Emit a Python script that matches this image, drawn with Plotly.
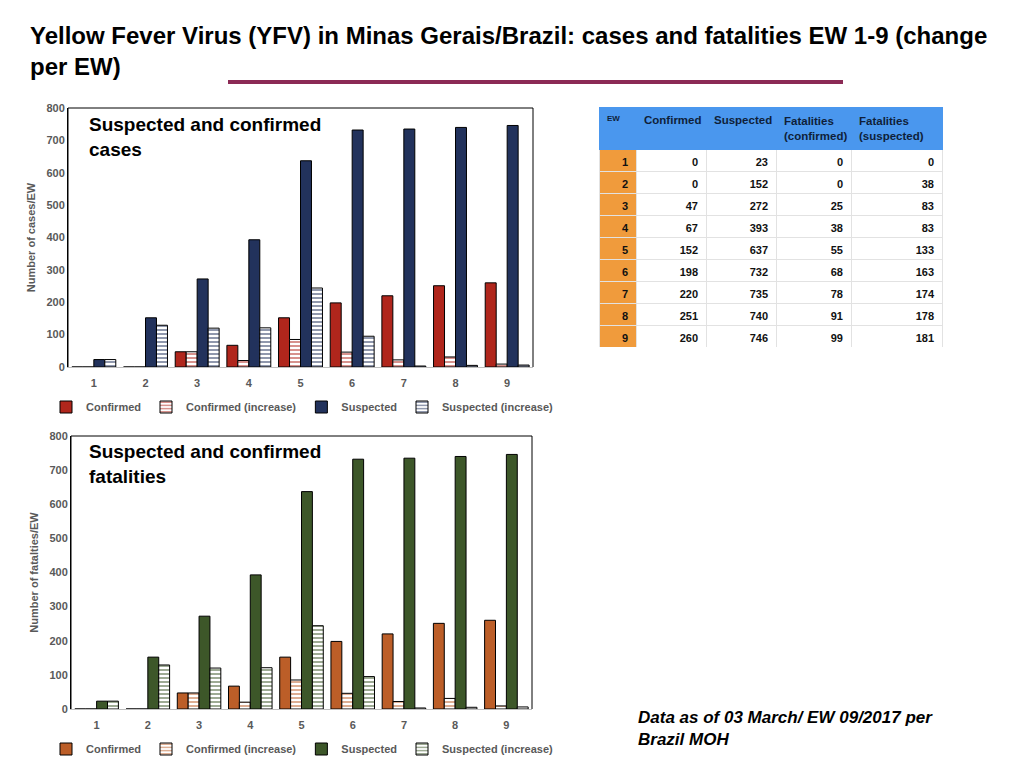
import plotly.graph_objects as go

# data (EW 1-9, Minas Gerais, Brazil MOH)
ew = [1, 2, 3, 4, 5, 6, 7, 8, 9]
confirmed = [0, 0, 47, 67, 152, 198, 220, 251, 260]
confirmed_increase = [0, 0, 47, 20, 85, 46, 22, 31, 9]
suspected = [23, 152, 272, 393, 637, 732, 735, 740, 746]
suspected_increase = [23, 129, 120, 121, 244, 95, 3, 5, 6]
fatal_confirmed = [0, 0, 25, 38, 55, 68, 78, 91, 99]
fatal_suspected = [0, 38, 83, 83, 133, 163, 174, 178, 181]

# the page puts the figure 8px in from the corner, so size it to the rest of the window
OFF = 8
W, H = 1024 - 2 * OFF, 768 - 2 * OFF
FONT = "Liberation Sans, Arial, sans-serif"
GREY = "#595959"


def dx(px):
    return (px - OFF) / W


def dy(px):
    return 1 - (px - OFF) / H


def bar_traces(c_col, s_col, xa, ya, leg):
    out = []
    specs = [
        ("Confirmed", confirmed, c_col, None),
        ("Confirmed (increase)", confirmed_increase, c_col, "-"),
        ("Suspected", suspected, s_col, None),
        ("Suspected (increase)", suspected_increase, s_col, "-"),
    ]
    for name, vals, col, pat in specs:
        marker = dict(color=col, line=dict(color="black", width=1))
        if pat:
            marker = dict(color="white", line=dict(color="black", width=1),
                          pattern=dict(shape=pat, fgcolor=col, bgcolor="white",
                                       size=4, solidity=0.5, fillmode="overlay"))
        out.append(go.Bar(x=[str(e) for e in ew], y=vals, name=name, marker=marker,
                          xaxis=xa, yaxis=ya, legend=leg))
    return out


fig = go.Figure()
for t in bar_traces("#B0261C", "#22325C", "x", "y", "legend"):
    fig.add_trace(t)
for t in bar_traces("#BC5E28", "#3D5729", "x2", "y2", "legend2"):
    fig.add_trace(t)

# table (bold via font weight; markup tags would make plotly grow the rows)
table_cols = [ew, confirmed, suspected, fatal_confirmed, fatal_suspected]
fig.add_trace(go.Table(
    domain=dict(x=[dx(599), dx(942)], y=[dy(347), dy(107)]),
    columnwidth=[37, 70, 70, 75, 91],
    header=dict(
        values=["EW", "Confirmed", "Suspected",
                "Fatalities<br>(confirmed)", "Fatalities<br>(suspected)"],
        fill_color="#4A97EE", line_color="#4A97EE", align="left", height=36,
        font=dict(family=FONT, size=[8, 11.5, 11.5, 11.5, 11.5], color="#0F1F3A", weight="bold"),
    ),
    cells=dict(
        values=table_cols,
        fill_color=[["#F09B3C"] * 9] + [["white"] * 9] * 4,
        line_color="#E2E2E2", align="right", height=22,
        font=dict(family=FONT, size=[11, 11, 11, 11, 11], color="#111111", weight="bold"),
    ),
))

axis_font = dict(family=FONT, size=11, color=GREY, weight="bold")
xcommon = dict(type="category", showline=True, linecolor="#BFBFBF", ticks="", ticklabelstandoff=6,
               tickfont=axis_font, showgrid=False, zeroline=False, automargin=False)
ycommon = dict(range=[0, 800], dtick=100, showline=True, linecolor="black", ticks="",
               tickfont=axis_font, showgrid=False, zeroline=False, automargin=False)
leg_font = dict(family=FONT, size=11, color=GREY, weight="bold")

fig.update_layout(
    width=W, height=H, margin=dict(l=0, r=0, t=0, b=0, autoexpand=False),
    paper_bgcolor="white", plot_bgcolor="white",
    barmode="group", bargap=0.15, bargroupgap=0,
    font=dict(family=FONT),
    xaxis=dict(domain=[dx(68), dx(533)], anchor="y", **xcommon),
    yaxis=dict(domain=[dy(367), dy(108)], anchor="x",
               title=dict(text="<b>Number of cases/EW</b>", font=dict(family=FONT, size=11, color=GREY),
                          standoff=8), **ycommon),
    xaxis2=dict(domain=[dx(71), dx(532)], anchor="y2", **xcommon),
    yaxis2=dict(domain=[dy(709), dy(436)], anchor="x2",
                title=dict(text="<b>Number of fatalties/EW</b>", font=dict(family=FONT, size=11, color=GREY),
                           standoff=8), **ycommon),
    legend=dict(orientation="h", x=dx(46), y=dy(407), xanchor="left", yanchor="middle",
                font=leg_font, traceorder="normal", itemwidth=30, bgcolor="rgba(0,0,0,0)"),
    legend2=dict(orientation="h", x=dx(46), y=dy(749), xanchor="left", yanchor="middle",
                 font=leg_font, traceorder="normal", itemwidth=30, bgcolor="rgba(0,0,0,0)"),
    showlegend=True,
)

# top / right frame lines of the plot areas
for xr, yr in [("x domain", "y domain"), ("x2 domain", "y2 domain")]:
    fig.add_shape(type="path", path="M 0,0 L 0,1 L 1,1 L 1,0", xref=xr, yref=yr,
                  line=dict(color="black", width=1))

# title + divider
fig.add_annotation(text="<b>Yellow Fever Virus (YFV) in Minas Gerais/Brazil: cases and fatalities EW 1-9 (change<br>per EW)</b>",
                   x=dx(28), y=dy(20), xref="paper", yref="paper", xanchor="left", yanchor="top",
                   align="left", showarrow=False,
                   font=dict(family="Liberation Sans Narrow, Arial Narrow, Liberation Sans", size=24, color="black"))
fig.add_shape(type="line", x0=dx(228), x1=dx(843), y0=dy(82), y1=dy(82), xref="paper", yref="paper",
              line=dict(color="#8B2A55", width=4))

# chart captions
fig.add_annotation(text="<b>Suspected and confirmed<br>cases</b>", x=dx(87), y=dy(112),
                   xref="paper", yref="paper", xanchor="left", yanchor="top", align="left",
                   showarrow=False, font=dict(family=FONT, size=19, color="black"))
fig.add_annotation(text="<b>Suspected and confirmed<br>fatalities</b>", x=dx(87), y=dy(439),
                   xref="paper", yref="paper", xanchor="left", yanchor="top", align="left",
                   showarrow=False, font=dict(family=FONT, size=19, color="black"))

# source note
fig.add_annotation(text="<b><i>Data as of 03 March/ EW 09/2017 per<br>Brazil MOH</i></b>", x=dx(636), y=dy(706),
                   xref="paper", yref="paper", xanchor="left", yanchor="top", align="left",
                   showarrow=False, font=dict(family=FONT, size=17, color="black"))

fig.write_html("out.html")
